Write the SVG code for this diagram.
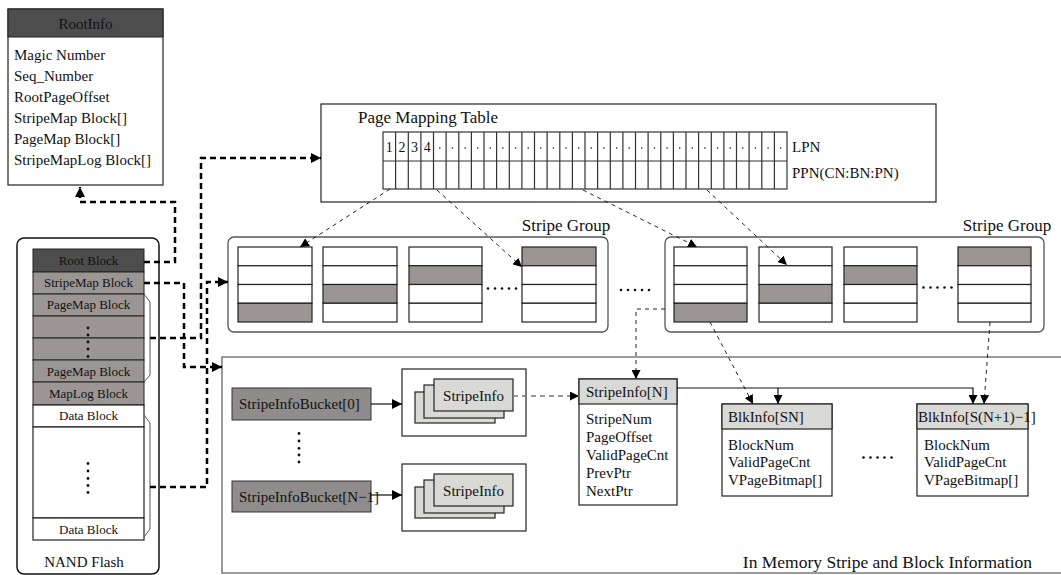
<svg xmlns="http://www.w3.org/2000/svg" width="1061" height="575" viewBox="0 0 1061 575">
<style>
text{font-family:"Liberation Serif","Times New Roman",serif;fill:#111}
.t13{font-size:13px}.t14{font-size:14px}.t15{font-size:15px}.t17{font-size:17px}.t175{font-size:17.5px}
.mid{text-anchor:middle}
.box{fill:#fff;stroke:#222;stroke-width:1.2}
.dark{fill:#4d4d4d;stroke:#222;stroke-width:1}
.mgray{fill:#9b9694;stroke:#222;stroke-width:1}
.lgray{fill:#d9d9d6;stroke:#222;stroke-width:1.2}
.page{fill:#fff;stroke:#222;stroke-width:1.2}
.pageg{fill:#9b9694;stroke:#222;stroke-width:1.2}
.grp{fill:#fff;stroke:#555;stroke-width:1.3}
.thick{fill:none;stroke:#000;stroke-width:2.5;stroke-dasharray:6,4}
.thin{fill:none;stroke:#222;stroke-width:1;stroke-dasharray:4,4}
.solid{fill:none;stroke:#111;stroke-width:1.2}
.gdash{fill:none;stroke:#777;stroke-width:1.5;stroke-dasharray:5,4}
.brace{fill:none;stroke:#555;stroke-width:1}
.dot{fill:#111}
</style>
<defs>
<marker id="big" viewBox="0 0 10 10" refX="10" refY="5" markerWidth="11" markerHeight="10" markerUnits="userSpaceOnUse" orient="auto"><path d="M0,0 L10,5 L0,10 z" fill="#000"/></marker>
<marker id="sm" viewBox="0 0 10 10" refX="10" refY="5" markerWidth="9" markerHeight="9" markerUnits="userSpaceOnUse" orient="auto"><path d="M0,0 L10,5 L0,10 z" fill="#000"/></marker>
</defs>

<!-- RootInfo -->
<g id="rootinfo">
<rect x="8" y="9" width="155" height="176" class="box"/>
<rect x="8" y="9" width="155" height="28" class="dark"/>
<text x="85.5" y="29" class="t15 mid">RootInfo</text>
<text x="14" y="60" class="t15">Magic Number</text>
<text x="14" y="81" class="t15">Seq_Number</text>
<text x="14" y="102" class="t15">RootPageOffset</text>
<text x="14" y="123" class="t15">StripeMap Block[]</text>
<text x="14" y="144" class="t15">PageMap Block[]</text>
<text x="14" y="165" class="t15">StripeMapLog Block[]</text>
</g>

<!-- NAND Flash -->
<g id="nand">
<rect x="17" y="238" width="142" height="336" rx="7" fill="#fff" stroke="#111" stroke-width="1.5"/>
<rect x="33" y="249" width="111" height="23" class="dark"/>
<rect x="33" y="272" width="111" height="22" class="mgray"/>
<rect x="33" y="294" width="111" height="22" class="mgray"/>
<rect x="33" y="316" width="111" height="22" class="mgray"/>
<rect x="33" y="338" width="111" height="22" class="mgray"/>
<rect x="33" y="360" width="111" height="22" class="mgray"/>
<rect x="33" y="382" width="111" height="23" class="mgray"/>
<rect x="33" y="405" width="111" height="22" class="box" stroke-width="1"/>
<rect x="33" y="427" width="111" height="91" class="box" stroke-width="1"/>
<rect x="33" y="518" width="111" height="22" class="box" stroke-width="1"/>
<text x="88.5" y="265" class="t13 mid">Root Block</text>
<text x="88.5" y="287" class="t13 mid">StripeMap Block</text>
<text x="88.5" y="309" class="t13 mid">PageMap Block</text>
<text x="88.5" y="376" class="t13 mid">PageMap Block</text>
<text x="88.5" y="398" class="t13 mid">MapLog Block</text>
<text x="88.5" y="420" class="t13 mid">Data Block</text>
<text x="88.5" y="534" class="t13 mid">Data Block</text>
<circle cx="88" cy="328" r="1.4" class="dot"/><circle cx="88" cy="335" r="1.4" class="dot"/><circle cx="88" cy="342" r="1.4" class="dot"/><circle cx="88" cy="349" r="1.4" class="dot"/><circle cx="88" cy="356.5" r="1.4" class="dot"/>
<circle cx="88" cy="463.5" r="1.4" class="dot"/><circle cx="88" cy="471" r="1.4" class="dot"/><circle cx="88" cy="478.5" r="1.4" class="dot"/><circle cx="88" cy="485.5" r="1.4" class="dot"/><circle cx="88" cy="492.5" r="1.4" class="dot"/>
<path d="M144,294 L150,302 L150,375 L144,382" class="brace"/>
<path d="M144,415 L150,423 L150,529 L144,537" class="brace"/>
<text x="84" y="567" class="t15 mid">NAND Flash</text>
</g>

<!-- Page Mapping Table -->
<g id="pmt">
<rect x="321" y="104" width="615" height="98" class="box"/>
<text x="358" y="123" class="t17">Page Mapping Table</text>
<rect x="383" y="132" width="404" height="57" fill="#fff" stroke="#333" stroke-width="1.2"/>
<line x1="383" y1="161" x2="787" y2="161" stroke="#333" stroke-width="1.2"/>
<path stroke="#333" stroke-width="1.2" d="M395.6,132V189M408.3,132V189M420.9,132V189M433.5,132V189M446.1,132V189M458.8,132V189M471.4,132V189M484,132V189M496.6,132V189M509.3,132V189M521.9,132V189M534.5,132V189M547.1,132V189M559.8,132V189M572.4,132V189M585,132V189M597.6,132V189M610.3,132V189M622.9,132V189M635.5,132V189M648.1,132V189M660.8,132V189M673.4,132V189M686,132V189M698.6,132V189M711.3,132V189M723.9,132V189M736.5,132V189M749.1,132V189M761.8,132V189M774.4,132V189"/>
<text x="389.3" y="152" class="t14 mid">1</text>
<text x="401.9" y="152" class="t14 mid">2</text>
<text x="414.6" y="152" class="t14 mid">3</text>
<text x="427.2" y="152" class="t14 mid">4</text>
<g class="dot">
<circle cx="439.8" cy="148" r="0.8"/><circle cx="452.4" cy="148" r="0.8"/><circle cx="465.1" cy="148" r="0.8"/><circle cx="477.7" cy="148" r="0.8"/><circle cx="490.3" cy="148" r="0.8"/><circle cx="502.9" cy="148" r="0.8"/><circle cx="515.6" cy="148" r="0.8"/><circle cx="528.2" cy="148" r="0.8"/><circle cx="540.8" cy="148" r="0.8"/><circle cx="553.4" cy="148" r="0.8"/><circle cx="566.1" cy="148" r="0.8"/><circle cx="578.7" cy="148" r="0.8"/><circle cx="591.3" cy="148" r="0.8"/><circle cx="603.9" cy="148" r="0.8"/><circle cx="616.6" cy="148" r="0.8"/><circle cx="629.2" cy="148" r="0.8"/><circle cx="641.8" cy="148" r="0.8"/><circle cx="654.4" cy="148" r="0.8"/><circle cx="667.1" cy="148" r="0.8"/><circle cx="679.7" cy="148" r="0.8"/><circle cx="692.3" cy="148" r="0.8"/><circle cx="704.9" cy="148" r="0.8"/><circle cx="717.6" cy="148" r="0.8"/><circle cx="730.2" cy="148" r="0.8"/><circle cx="742.8" cy="148" r="0.8"/><circle cx="755.4" cy="148" r="0.8"/><circle cx="768.1" cy="148" r="0.8"/><circle cx="780.7" cy="148" r="0.8"/>
</g>
<text x="792" y="152" class="t15">LPN</text>
<text x="792" y="178" class="t15">PPN(CN:BN:PN)</text>
</g>

<!-- Stripe Group left -->
<g id="sg1">
<rect x="228" y="237" width="380" height="95" rx="6" class="grp"/>
<text x="566" y="231" class="t17 mid">Stripe Group</text>
<rect x="238" y="247" width="74" height="18.75" class="page"/><rect x="238" y="265.75" width="74" height="18.75" class="page"/><rect x="238" y="284.5" width="74" height="18.75" class="page"/><rect x="238" y="303.25" width="74" height="18.75" class="pageg"/>
<rect x="323" y="247" width="74" height="18.75" class="page"/><rect x="323" y="265.75" width="74" height="18.75" class="page"/><rect x="323" y="284.5" width="74" height="18.75" class="pageg"/><rect x="323" y="303.25" width="74" height="18.75" class="page"/>
<rect x="409" y="247" width="73" height="18.75" class="page"/><rect x="409" y="265.75" width="73" height="18.75" class="pageg"/><rect x="409" y="284.5" width="73" height="18.75" class="page"/><rect x="409" y="303.25" width="73" height="18.75" class="page"/>
<rect x="522" y="247" width="74" height="18.75" class="pageg"/><rect x="522" y="265.75" width="74" height="18.75" class="page"/><rect x="522" y="284.5" width="74" height="18.75" class="page"/><rect x="522" y="303.25" width="74" height="18.75" class="page"/>
<g class="dot"><circle cx="488" cy="288.5" r="1.3"/><circle cx="495" cy="288.5" r="1.3"/><circle cx="502" cy="288.5" r="1.3"/><circle cx="509" cy="288.5" r="1.3"/><circle cx="516" cy="288.5" r="1.3"/></g>
</g>

<g id="gap-dots" class="dot"><circle cx="621" cy="290" r="1.3"/><circle cx="628" cy="290" r="1.3"/><circle cx="635" cy="290" r="1.3"/><circle cx="642" cy="290" r="1.3"/><circle cx="649" cy="290" r="1.3"/></g>

<!-- Stripe Group right -->
<g id="sg2">
<rect x="665" y="237" width="379" height="95" rx="6" class="grp"/>
<text x="1007" y="231" class="t17 mid">Stripe Group</text>
<rect x="674" y="247" width="73" height="18.75" class="page"/><rect x="674" y="265.75" width="73" height="18.75" class="page"/><rect x="674" y="284.5" width="73" height="18.75" class="page"/><rect x="674" y="303.25" width="73" height="18.75" class="pageg"/>
<rect x="759" y="247" width="73" height="18.75" class="page"/><rect x="759" y="265.75" width="73" height="18.75" class="page"/><rect x="759" y="284.5" width="73" height="18.75" class="pageg"/><rect x="759" y="303.25" width="73" height="18.75" class="page"/>
<rect x="844" y="247" width="73" height="18.75" class="page"/><rect x="844" y="265.75" width="73" height="18.75" class="pageg"/><rect x="844" y="284.5" width="73" height="18.75" class="page"/><rect x="844" y="303.25" width="73" height="18.75" class="page"/>
<rect x="958" y="247" width="73" height="18.75" class="pageg"/><rect x="958" y="265.75" width="73" height="18.75" class="page"/><rect x="958" y="284.5" width="73" height="18.75" class="page"/><rect x="958" y="303.25" width="73" height="18.75" class="page"/>
<g class="dot"><circle cx="923.5" cy="287.5" r="1.3"/><circle cx="930.5" cy="287.5" r="1.3"/><circle cx="937.5" cy="287.5" r="1.3"/><circle cx="944.5" cy="287.5" r="1.3"/><circle cx="951.5" cy="287.5" r="1.3"/></g>
</g>

<!-- In memory area -->
<g id="memory">
<rect x="222" y="357" width="900" height="216" fill="#fff" stroke="#666" stroke-width="1.3"/>
<text x="1032" y="568" class="t175" text-anchor="end">In Memory Stripe and Block Information</text>
</g>

<g id="bucket0">
<rect x="232" y="388" width="139" height="32" fill="#8f8c8b" stroke="#333" stroke-width="1"/>
<text x="239" y="409" class="t15">StripeInfoBucket[0]</text>
</g>
<g id="bucket-dots" class="dot"><circle cx="299" cy="433.5" r="1.4"/><circle cx="299" cy="441" r="1.4"/><circle cx="299" cy="448.3" r="1.4"/><circle cx="299" cy="455" r="1.4"/><circle cx="299" cy="462" r="1.4"/></g>
<g id="bucketN">
<rect x="232" y="481" width="139" height="31" fill="#8f8c8b" stroke="#333" stroke-width="1"/>
<text x="239" y="502" class="t15">StripeInfoBucket[N−1]</text>
</g>

<g id="list0">
<rect x="402" y="369" width="124" height="67" class="box"/>
<rect x="415" y="392" width="80" height="31" class="lgray"/>
<rect x="424" y="385" width="80" height="33" class="lgray"/>
<rect x="434" y="379" width="79" height="32" class="lgray"/>
<text x="473.5" y="401" class="t15 mid">StripeInfo</text>
</g>
<g id="listN">
<rect x="402" y="464" width="124" height="67" class="box"/>
<rect x="415" y="487" width="80" height="31" class="lgray"/>
<rect x="424" y="480" width="80" height="33" class="lgray"/>
<rect x="434" y="474" width="79" height="32" class="lgray"/>
<text x="473.5" y="496" class="t15 mid">StripeInfo</text>
</g>

<g id="stripeinfoN">
<rect x="579" y="379" width="98" height="126" class="box"/>
<rect x="579" y="379" width="98" height="25" class="lgray"/>
<text x="586" y="397" class="t15">StripeInfo[N]</text>
<text x="586" y="424" class="t15">StripeNum</text>
<text x="586" y="442" class="t15">PageOffset</text>
<text x="586" y="460" class="t15">ValidPageCnt</text>
<text x="586" y="478" class="t15">PrevPtr</text>
<text x="586" y="496" class="t15">NextPtr</text>
</g>

<g id="blkSN">
<rect x="722" y="404" width="110" height="92" class="box"/>
<rect x="722" y="404" width="110" height="25" class="lgray"/>
<text x="728" y="422" class="t15">BlkInfo[SN]</text>
<text x="728" y="450" class="t15">BlockNum</text>
<text x="728" y="467" class="t15">ValidPageCnt</text>
<text x="728" y="485" class="t15">VPageBitmap[]</text>
</g>
<g id="blk-dots" class="dot"><circle cx="863.5" cy="457.5" r="1.3"/><circle cx="870.5" cy="457.5" r="1.3"/><circle cx="877.5" cy="457.5" r="1.3"/><circle cx="884.5" cy="457.5" r="1.3"/><circle cx="891.5" cy="457.5" r="1.3"/></g>
<g id="blkSN1">
<rect x="917" y="404" width="111" height="92" class="box"/>
<rect x="917" y="404" width="111" height="25" class="lgray"/>
<text x="918" y="422" class="t15">BlkInfo[S(N+1)−1]</text>
<text x="924" y="450" class="t15">BlockNum</text>
<text x="924" y="467" class="t15">ValidPageCnt</text>
<text x="924" y="485" class="t15">VPageBitmap[]</text>
</g>

<!-- connectors -->
<g id="connectors">
<path d="M144,262 H175 V202 H80 V187" class="thick" marker-end="url(#big)"/>
<path d="M144,283 H184 V367 H222" class="thick" marker-end="url(#big)"/>
<path d="M150,338 H201 V158 H321" class="thick" marker-end="url(#big)"/>
<path d="M150,487 H207 V282 H228" class="thick" marker-end="url(#big)"/>
<path d="M390,189 L300,247" class="thin" marker-end="url(#sm)"/>
<path d="M437,190 L522,267" class="thin" marker-end="url(#sm)"/>
<path d="M583,190 L697,247" class="thin" marker-end="url(#sm)"/>
<path d="M707,190 L787,265" class="thin" marker-end="url(#sm)"/>
<path d="M665,309 H636 V379" class="thin" marker-end="url(#sm)"/>
<path d="M710,322 L753,404" class="thin" marker-end="url(#sm)"/>
<path d="M990,322 L984,404" class="thin" marker-end="url(#sm)"/>
<path d="M371,404 H402" class="solid" marker-end="url(#big)"/>
<path d="M371,495 H402" class="solid" marker-end="url(#big)"/>
<path d="M513,396 H579" class="gdash" marker-end="url(#sm)"/>
<path d="M677,388 H973 V404" class="solid" marker-end="url(#sm)"/>
<path d="M778,388 V404" class="solid" marker-end="url(#sm)"/>
</g>
</svg>
